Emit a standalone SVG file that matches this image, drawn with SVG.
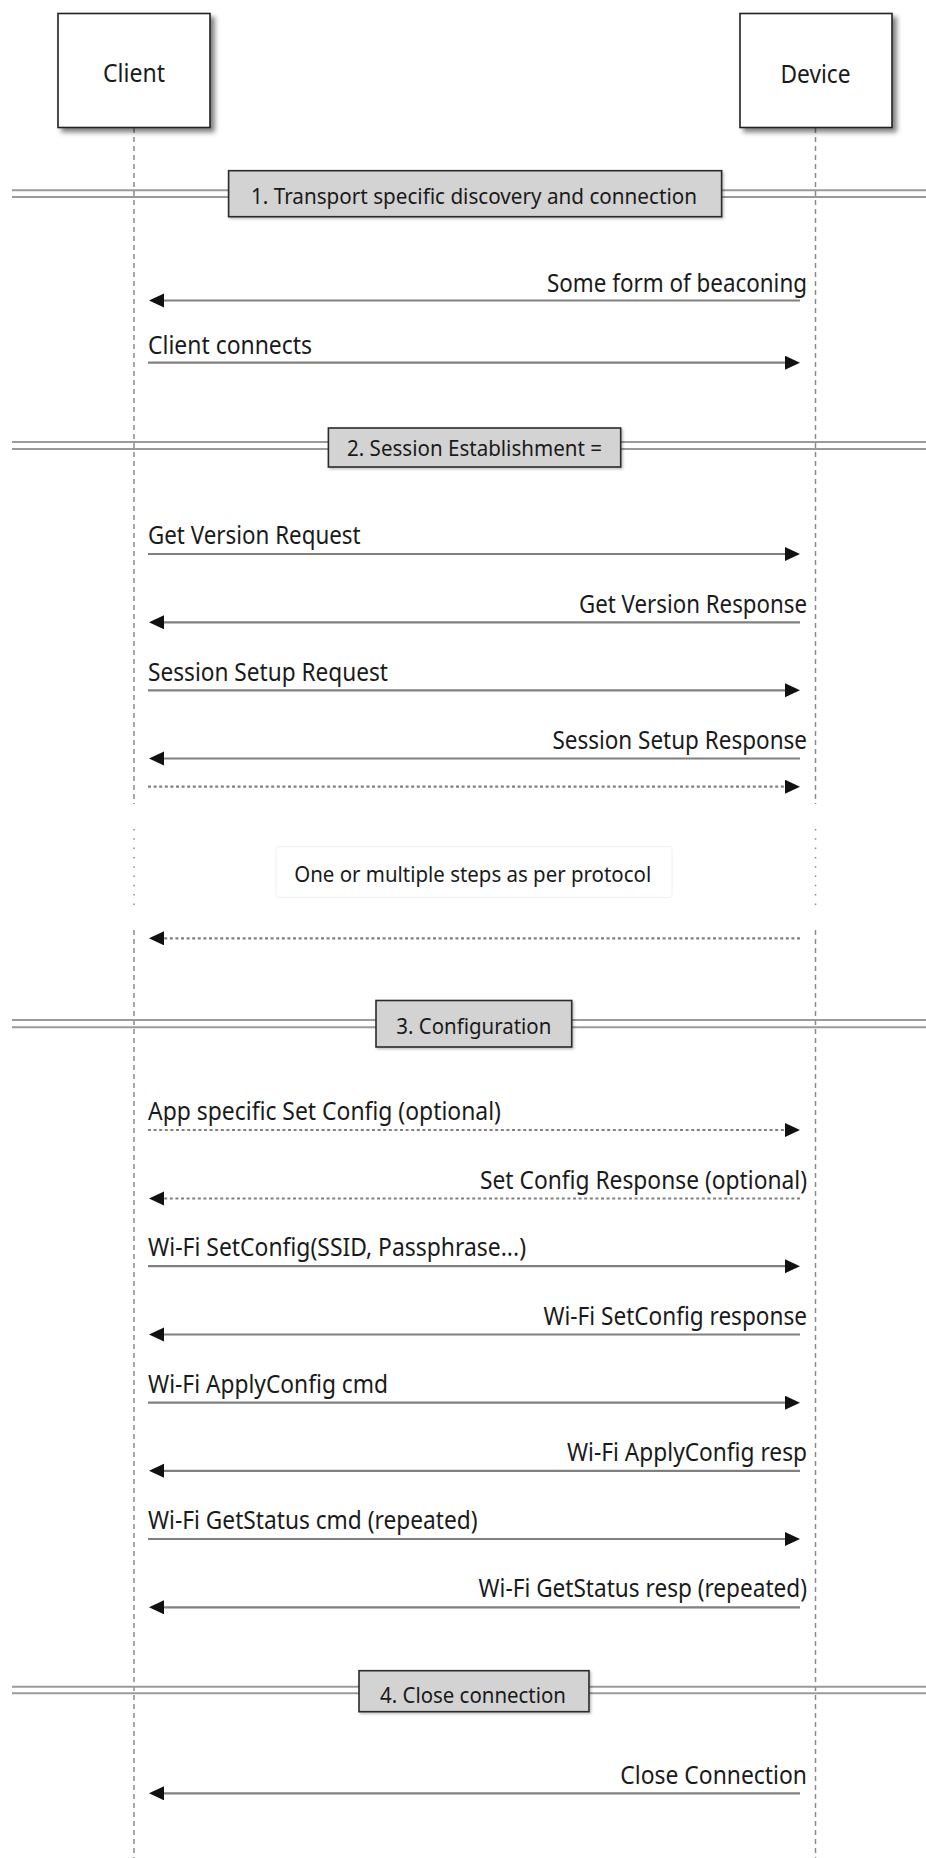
<svg xmlns="http://www.w3.org/2000/svg" width="926" height="1858" viewBox="0 0 926 1858">
<style>
.bg{fill:#fff}
.part{fill:#fff;stroke:#222;stroke-width:1.6}
.life{stroke:#8a8a8a;stroke-width:1.5;stroke-dasharray:5 4;fill:none}
.lifedot{stroke:#8a8a8a;stroke-width:1.5;stroke-dasharray:1.5 7.8;fill:none}
.msg{stroke:#808080;stroke-width:2.2;fill:none}
.dot{stroke:#808080;stroke-width:2.2;stroke-dasharray:3 2.6;fill:none}
.sep{stroke:#9a9a9a;stroke-width:2;fill:none}
.divbox{fill:#d3d3d3;stroke:#2a2a2a;stroke-width:1.6}
.note{fill:#fff;stroke:#eeeeee;stroke-width:1}
.t{font-family:"Noto Sans","Liberation Sans",sans-serif;font-size:25px;fill:#1a1a1a}
.ts{font-family:"Noto Sans","Liberation Sans",sans-serif;font-size:21px;fill:#1a1a1a}
</style>
<defs>
<filter id="sh" x="-10%" y="-10%" width="130%" height="130%">
<feDropShadow dx="4" dy="4" stdDeviation="2.5" flood-color="#000" flood-opacity="0.5"/>
</filter>
<filter id="sh2" x="-5%" y="-10%" width="115%" height="140%">
<feDropShadow dx="1.5" dy="1.5" stdDeviation="1" flood-color="#000" flood-opacity="0.25"/>
</filter>
<marker id="ah" markerUnits="userSpaceOnUse" markerWidth="16" markerHeight="16" refX="10" refY="7" orient="auto">
<path d="M0,0 L15,7 L0,14 z" fill="#111"/>
</marker>
</defs>
<rect class="bg" x="0" y="0" width="926" height="1858"/>

<g id="lifelines">
<path class="life" d="M134,128 V804 M134,930 V1858 M815.5,128 V804 M815.5,930 V1858"/>
<path class="lifedot" d="M134,829 V908 M815.5,829 V908"/>
</g>

<g id="client">
<rect class="part" x="58" y="13.5" width="152" height="114" filter="url(#sh)"/>
<text class="t" x="134" y="82" text-anchor="middle" textLength="62" lengthAdjust="spacingAndGlyphs">Client</text>
</g>
<g id="device">
<rect class="part" x="740" y="13.5" width="152" height="114" filter="url(#sh)"/>
<text class="t" x="815.5" y="83" text-anchor="middle" textLength="70" lengthAdjust="spacingAndGlyphs">Device</text>
</g>

<g id="divider1">
<path class="sep" d="M12,190.3 H926 M12,197.1 H926"/>
<rect class="divbox" x="228.6" y="170.7" width="493" height="46" filter="url(#sh2)"/>
<text class="ts" x="474" y="203.5" text-anchor="middle" textLength="446" lengthAdjust="spacingAndGlyphs">1. Transport specific discovery and connection</text>
</g>
<g id="divider2">
<path class="sep" d="M12,442 H926 M12,449 H926"/>
<rect class="divbox" x="328.4" y="428" width="292.3" height="39" filter="url(#sh2)"/>
<text class="ts" x="474.5" y="455.5" text-anchor="middle" textLength="255" lengthAdjust="spacingAndGlyphs">2. Session Establishment =</text>
</g>
<g id="divider3">
<path class="sep" d="M12,1020 H926 M12,1027.3 H926"/>
<rect class="divbox" x="376" y="1000.5" width="195.7" height="46.5" filter="url(#sh2)"/>
<text class="ts" x="473.8" y="1033.5" text-anchor="middle" textLength="155" lengthAdjust="spacingAndGlyphs">3. Configuration</text>
</g>
<g id="divider4">
<path class="sep" d="M12,1686.7 H926 M12,1693.3 H926"/>
<rect class="divbox" x="359" y="1670.7" width="230" height="41" filter="url(#sh2)"/>
<text class="ts" x="473" y="1702.5" text-anchor="middle" textLength="186" lengthAdjust="spacingAndGlyphs">4. Close connection</text>
</g>

<g id="note">
<rect class="note" x="276" y="846.7" width="396" height="50.6" rx="2"/>
<text class="ts" x="472.7" y="882" text-anchor="middle" textLength="357" lengthAdjust="spacingAndGlyphs">One or multiple steps as per protocol</text>
</g>

<g id="connectors">
<line class="msg" x1="800" y1="300.5" x2="154" y2="300.5" marker-end="url(#ah)"/>
<line class="msg" x1="148" y1="362.7" x2="795" y2="362.7" marker-end="url(#ah)"/>
<line class="msg" x1="148" y1="554" x2="795" y2="554" marker-end="url(#ah)"/>
<line class="msg" x1="800" y1="622.3" x2="154" y2="622.3" marker-end="url(#ah)"/>
<line class="msg" x1="148" y1="690.3" x2="795" y2="690.3" marker-end="url(#ah)"/>
<line class="msg" x1="800" y1="758.5" x2="154" y2="758.5" marker-end="url(#ah)"/>
<line class="dot" x1="148" y1="786.7" x2="795" y2="786.7" marker-end="url(#ah)"/>
<line class="dot" x1="800" y1="938.3" x2="154" y2="938.3" marker-end="url(#ah)"/>
<line class="dot" x1="148" y1="1130" x2="795" y2="1130" marker-end="url(#ah)"/>
<line class="dot" x1="800" y1="1198.5" x2="154" y2="1198.5" marker-end="url(#ah)"/>
<line class="msg" x1="148" y1="1266.2" x2="795" y2="1266.2" marker-end="url(#ah)"/>
<line class="msg" x1="800" y1="1334.5" x2="154" y2="1334.5" marker-end="url(#ah)"/>
<line class="msg" x1="148" y1="1402.7" x2="795" y2="1402.7" marker-end="url(#ah)"/>
<line class="msg" x1="800" y1="1470.8" x2="154" y2="1470.8" marker-end="url(#ah)"/>
<line class="msg" x1="148" y1="1539" x2="795" y2="1539" marker-end="url(#ah)"/>
<line class="msg" x1="800" y1="1607.3" x2="154" y2="1607.3" marker-end="url(#ah)"/>
<line class="msg" x1="800" y1="1793.3" x2="154" y2="1793.3" marker-end="url(#ah)"/>
</g>

<g id="labels">
<text class="t" x="807" y="291.5" text-anchor="end" textLength="260" lengthAdjust="spacingAndGlyphs">Some form of beaconing</text>
<text class="t" x="148" y="353.5" textLength="164" lengthAdjust="spacingAndGlyphs">Client connects</text>
<text class="t" x="148" y="544" textLength="212.6" lengthAdjust="spacingAndGlyphs">Get Version Request</text>
<text class="t" x="807" y="612.5" text-anchor="end" textLength="228" lengthAdjust="spacingAndGlyphs">Get Version Response</text>
<text class="t" x="148" y="680.5" textLength="240" lengthAdjust="spacingAndGlyphs">Session Setup Request</text>
<text class="t" x="807" y="748.5" text-anchor="end" textLength="254.6" lengthAdjust="spacingAndGlyphs">Session Setup Response</text>
<text class="t" x="148" y="1120" textLength="353" lengthAdjust="spacingAndGlyphs">App specific Set Config (optional)</text>
<text class="t" x="807" y="1188.5" text-anchor="end" textLength="327" lengthAdjust="spacingAndGlyphs">Set Config Response (optional)</text>
<text class="t" x="148" y="1256.3" textLength="378" lengthAdjust="spacingAndGlyphs">Wi-Fi SetConfig(SSID, Passphrase...)</text>
<text class="t" x="807" y="1324.5" text-anchor="end" textLength="263.5" lengthAdjust="spacingAndGlyphs">Wi-Fi SetConfig response</text>
<text class="t" x="148" y="1392.7" textLength="240" lengthAdjust="spacingAndGlyphs">Wi-Fi ApplyConfig cmd</text>
<text class="t" x="807" y="1460.8" text-anchor="end" textLength="240" lengthAdjust="spacingAndGlyphs">Wi-Fi ApplyConfig resp</text>
<text class="t" x="148" y="1529" textLength="329.5" lengthAdjust="spacingAndGlyphs">Wi-Fi GetStatus cmd (repeated)</text>
<text class="t" x="807" y="1597.3" text-anchor="end" textLength="328.4" lengthAdjust="spacingAndGlyphs">Wi-Fi GetStatus resp (repeated)</text>
<text class="t" x="807" y="1783.5" text-anchor="end" textLength="186.7" lengthAdjust="spacingAndGlyphs">Close Connection</text>
</g>
</svg>
